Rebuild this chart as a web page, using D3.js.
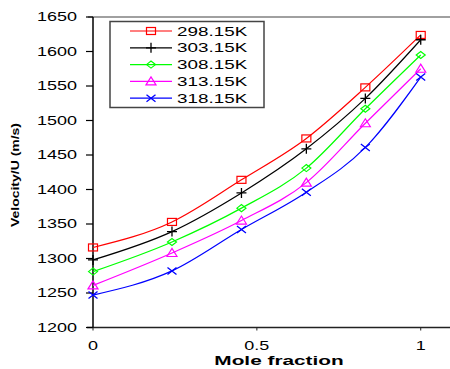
<!DOCTYPE html>
<html>
<head>
<meta charset="utf-8">
<script src="https://cdn.jsdelivr.net/npm/d3@7"></script>
<style>
  body { margin: 0; background: #fff; }
  text { font-family: Arial, "Liberation Sans", sans-serif; }
</style>
</head>
<body>
<script>
// size of the picture
var w = 450;
var h = 369;

// mole fractions (same for every temperature)
var moleFraction = [0, 0.241, 0.453, 0.651, 0.831, 1];

// velocity U (m/s) per temperature
var temps = ["298.15K", "303.15K", "308.15K", "313.15K", "318.15K"];
var u298 = [1316, 1353, 1414, 1474, 1548, 1624];
var u303 = [1298, 1339, 1395, 1459, 1532, 1617];
var u308 = [1281, 1324, 1373, 1431, 1517, 1595];
var u313 = [1261, 1308, 1355, 1410, 1496, 1575];
var u318 = [1247, 1282, 1342, 1396, 1461, 1563];

var yTicks = [1200, 1250, 1300, 1350, 1400, 1450, 1500, 1550, 1600, 1650];
var xTicks = [0, 0.5, 1];

var colors = ["#ff0000", "#000000", "#00ff00", "#ff00ff", "#0000ff"];
var shapes = ["square", "plus", "diamond", "triangle", "cross"];

var series = [u298, u303, u308, u313, u318].map(function(vals, i) {
	return {
		name: temps[i],
		color: colors[i],
		shape: shapes[i],
		values: vals.map(function(v, j) { return [moleFraction[j], v]; })
	};
});

var svg = d3.select("body")
		.append("svg")
		.attr("width", w)
		.attr("height", h);

var x = d3.scaleLinear().domain([0, 1.1]).range([93, 453.5]);
var y = d3.scaleLinear().domain([1200, 1650]).range([327.5, 17]);

// text in the source is stretched sideways, so squeeze it back with a scale
function wideText(g, str, tx, ty, anchor, sx, size, bold) {
	return g.append("text")
			.attr("transform", "translate(" + tx + "," + ty + ") scale(" + sx + ",1)")
			.attr("text-anchor", anchor)
			.attr("font-size", size + "px")
			.attr("font-weight", bold ? "bold" : "normal")
			.attr("fill", "#000")
			.text(str);
}

// frame: grey top line, black left axis, dark bottom axis
svg.append("line")
		.attr("x1", 88).attr("x2", w)
		.attr("y1", y(1650)).attr("y2", y(1650))
		.attr("stroke", "#808080").attr("stroke-width", 1.5);

svg.append("line")
		.attr("x1", 87).attr("x2", w)
		.attr("y1", y(1200)).attr("y2", y(1200))
		.attr("stroke", "#222").attr("stroke-width", 1.5);

svg.append("line")
		.attr("x1", x(0)).attr("x2", x(0))
		.attr("y1", y(1650)).attr("y2", y(1200))
		.attr("stroke", "#000").attr("stroke-width", 1.5);

// y ticks
var yAxis = svg.append("g");
yTicks.forEach(function(t) {
	yAxis.append("line")
			.attr("x1", x(0) - 7).attr("x2", x(0))
			.attr("y1", y(t)).attr("y2", y(t))
			.attr("stroke", "#000").attr("stroke-width", 1.2);
	wideText(yAxis, t, 77, y(t) + 4.3, "end", 1.5, 12, false);
});

// x ticks
var xAxis = svg.append("g");
xTicks.forEach(function(t) {
	xAxis.append("line")
			.attr("x1", x(t)).attr("x2", x(t))
			.attr("y1", y(1200)).attr("y2", y(1200) + 3)
			.attr("stroke", "#222").attr("stroke-width", 1);
	wideText(xAxis, t, x(t), 349.5, "middle", 1.5, 12, false);
});

// axis titles
wideText(svg, "Mole fraction", 279, 365, "middle", 1.6, 13, true);

svg.append("text")
		.attr("transform", "translate(19,175) rotate(-90)")
		.attr("text-anchor", "middle")
		.attr("font-size", "11px")
		.attr("font-weight", "bold")
		.attr("textLength", 104)
		.attr("lengthAdjust", "spacingAndGlyphs")
		.text("Velocity/U (m/s)");

// markers
function drawMarker(g, shape, color, cx, cy) {
	if (shape == "square") {
		g.append("rect").attr("x", cx - 4.5).attr("y", cy - 3.5)
				.attr("width", 9).attr("height", 7)
				.attr("fill", "none").attr("stroke", color).attr("stroke-width", 1.2);
	} else if (shape == "plus") {
		g.append("path").attr("d", "M" + (cx - 5) + "," + cy + "h10M" + cx + "," + (cy - 5) + "v10")
				.attr("stroke", color).attr("stroke-width", 1.3);
	} else if (shape == "diamond") {
		g.append("path").attr("d", "M" + (cx - 4.5) + "," + cy + "L" + cx + "," + (cy - 3.5) +
				"L" + (cx + 4.5) + "," + cy + "L" + cx + "," + (cy + 3.5) + "Z")
				.attr("fill", "none").attr("stroke", color).attr("stroke-width", 1.2);
	} else if (shape == "triangle") {
		g.append("path").attr("d", "M" + (cx - 5) + "," + (cy + 3.5) + "L" + cx + "," + (cy - 4.5) +
				"L" + (cx + 5) + "," + (cy + 3.5) + "Z")
				.attr("fill", "none").attr("stroke", color).attr("stroke-width", 1.2);
	} else {
		g.append("path").attr("d", "M" + (cx - 4.5) + "," + (cy - 3.5) + "L" + (cx + 4.5) + "," + (cy + 3.5) +
				"M" + (cx - 4.5) + "," + (cy + 3.5) + "L" + (cx + 4.5) + "," + (cy - 3.5))
				.attr("stroke", color).attr("stroke-width", 1.3);
	}
}

var line = d3.line()
		.x(function(d) { return x(d[0]); })
		.y(function(d) { return y(d[1]); })
		.curve(d3.curveMonotoneX);

var plot = svg.append("g");
series.forEach(function(s) {
	plot.append("path")
			.attr("d", line(s.values))
			.attr("fill", "none")
			.attr("stroke", s.color)
			.attr("stroke-width", 1.2);
	s.values.forEach(function(d) {
		drawMarker(plot, s.shape, s.color, x(d[0]), y(d[1]));
	});
});

// legend
var lg = svg.append("g");
lg.append("rect")
		.attr("x", 110).attr("y", 21.5)
		.attr("width", 154).attr("height", 86)
		.attr("fill", "#fff").attr("stroke", "#444").attr("stroke-width", 1.5);

series.forEach(function(s, i) {
	var ly = 31 + i * 16.8;
	lg.append("line")
			.attr("x1", 130).attr("x2", 172)
			.attr("y1", ly).attr("y2", ly)
			.attr("stroke", s.color).attr("stroke-width", 1.2);
	drawMarker(lg, s.shape, s.color, 151, ly);
	wideText(lg, s.name, 177, ly + 4.6, "start", 1.45, 13, false);
});
</script>
</body>
</html>
